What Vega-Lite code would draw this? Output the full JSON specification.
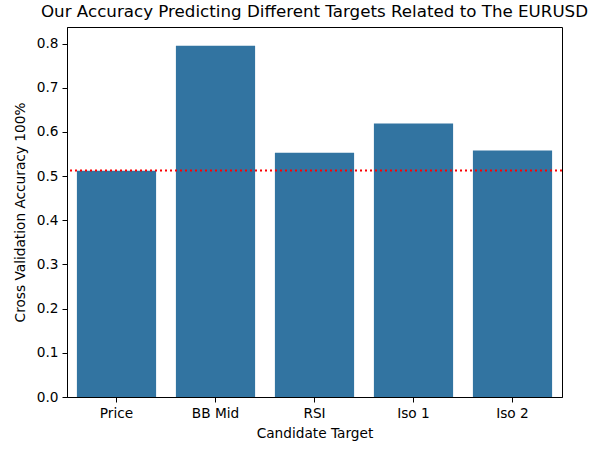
{
  "$schema": "https://vega.github.io/schema/vega-lite/v6.json",
  "autosize": "none",
  "padding": {"left": 67, "top": 27, "right": 38, "bottom": 55},
  "width": 495,
  "height": 370,
  "background": "white",
  "title": {
    "text": "Our Accuracy Predicting Different Targets Related to The EURUSD",
    "font": "DejaVu Sans",
    "fontSize": 16.7,
    "fontWeight": "normal",
    "color": "black",
    "anchor": "middle",
    "offset": 6
  },
  "config": {
    "view": {"stroke": "black", "strokeWidth": 1},
    "axis": {
      "domainColor": "black",
      "tickColor": "black",
      "tickSize": 5,
      "labelFont": "DejaVu Sans",
      "labelFontSize": 13.7,
      "labelColor": "black",
      "titleFont": "DejaVu Sans",
      "titleFontSize": 13.7,
      "titleFontWeight": "normal",
      "titleColor": "black",
      "grid": false,
      "labelPadding": 4
    }
  },
  "data": {
    "values": [
      {"target": "Price", "accuracy": 0.5124},
      {"target": "BB Mid", "accuracy": 0.795},
      {"target": "RSI", "accuracy": 0.553},
      {"target": "Iso 1", "accuracy": 0.619},
      {"target": "Iso 2", "accuracy": 0.558}
    ]
  },
  "layer": [
    {
      "mark": {"type": "bar", "color": "#3274a1"},
      "encoding": {
        "x": {
          "field": "target",
          "type": "nominal",
          "sort": null,
          "scale": {"paddingInner": 0.2, "paddingOuter": 0.1},
          "axis": {"title": "Candidate Target", "labelAngle": 0, "titlePadding": 7}
        },
        "y": {
          "field": "accuracy",
          "type": "quantitative",
          "scale": {"domain": [0, 0.8376], "nice": false},
          "axis": {
            "title": "Cross Validation Accuracy 100%",
            "values": [0, 0.1, 0.2, 0.3, 0.4, 0.5, 0.6, 0.7, 0.8],
            "format": ".1f",
            "titlePadding": 9
          }
        }
      }
    },
    {
      "data": {"values": [{"baseline": 0.513}]},
      "mark": {"type": "rule", "color": "red", "strokeWidth": 2, "strokeDash": [2, 3]},
      "encoding": {
        "y": {"field": "baseline", "type": "quantitative"}
      }
    }
  ]
}
